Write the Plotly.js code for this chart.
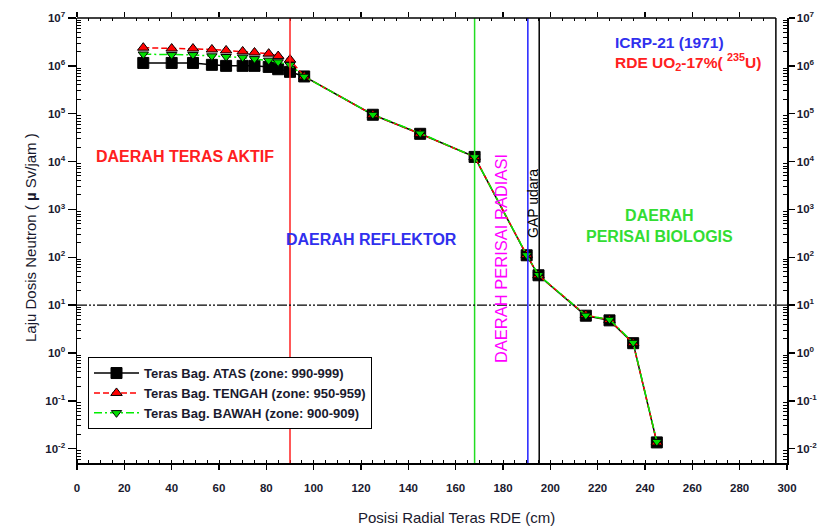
<!DOCTYPE html>
<html>
<head>
<meta charset="utf-8">
<script src="https://cdn.plot.ly/plotly-3.0.1.min.js"></script>
<style>html,body{margin:0;padding:0;background:#fff;}#chart{width:825px;height:527px;}</style>
</head>
<body>
<div id="chart"></div>
<script>
// Data
var posCore = [28, 40, 49, 57, 63, 70, 75, 81, 85, 90, 96];
var atasCore = [1.15e6, 1.15e6, 1.15e6, 1.05e6, 1.0e6, 1.0e6, 1.0e6, 0.95e6, 0.85e6, 0.75e6, 0.6e6];
var tengahCore = [2.4e6, 2.3e6, 2.3e6, 2.2e6, 2.1e6, 2.0e6, 1.9e6, 1.8e6, 1.6e6, 1.35e6, 0.6e6];
var bawahCore = [1.75e6, 1.7e6, 1.7e6, 1.6e6, 1.55e6, 1.5e6, 1.4e6, 1.3e6, 1.2e6, 1.05e6, 0.6e6];
var posOuter = [125, 145, 168, 190, 195, 215, 225, 235, 245];
var atasOuter = [9.5e4, 3.8e4, 1.25e4, 110, 42, 6.0, 4.8, 1.6, 0.0135];
var tengahOuter = [9.5e4, 3.8e4, 1.25e4, 112, 42, 6.2, 4.9, 1.6, 0.0135];
var bawahOuter = [9.6e4, 3.9e4, 1.25e4, 112, 43, 6.1, 5.0, 1.65, 0.014];
var seriesNames = ["Teras Bag. ATAS (zone: 990-999)", "Teras Bag. TENGAH (zone: 950-959)", "Teras Bag. BAWAH (zone: 900-909)"];
var boundaries = {reflector: 90, shield: 168, gapStart: 190.5, gapEnd: 195.3, frame: 295.3};
var limitDose = 10;
var decades = [-2, -1, 0, 1, 2, 3, 4, 5, 6, 7];

var posAll = posCore.concat(posOuter);
var tickVals = decades.map(function(d){return Math.pow(10, d);});
var tickText = decades.map(function(d){return "10<sup>" + d + "</sup>";});
var minorVals = [];
for (var d = -3; d < 7; d++) { for (var k = 2; k <= 9; k++) { minorVals.push(k * Math.pow(10, d)); } }

var tickFont = {family: "Liberation Sans Narrow, Arial Narrow, Liberation Sans, Arial", size: 11.5, color: "#1a1a2e", weight: "bold"};
var annFont = "Liberation Sans, Arial";

var traces = [
  {x: posAll, y: atasCore.concat(atasOuter), name: seriesNames[0], mode: "lines+markers",
   line: {color: "#000", width: 1.5},
   marker: {symbol: "square", size: 11, color: "#000", line: {color: "#000", width: 1}}},
  {x: posAll, y: tengahCore.concat(tengahOuter), name: seriesNames[1], mode: "lines+markers",
   line: {color: "#ff0000", width: 1.5, dash: "6px,3px"},
   marker: {symbol: "triangle-up", size: 10, color: "#ff0000", line: {color: "#000", width: 1}}},
  {x: posAll, y: bawahCore.concat(bawahOuter), name: seriesNames[2], mode: "lines+markers",
   line: {color: "#00ee00", width: 1.5, dash: "8px,3px,2px,3px"},
   marker: {symbol: "triangle-down", size: 9, color: "#00dd00", line: {color: "#000", width: 1}}},
  {x: [0], y: [1], xaxis: "x2", yaxis: "y2", mode: "markers", marker: {opacity: 0}, showlegend: false, hoverinfo: "skip"}
];

function vline(x, color) {
  return {type: "line", xref: "x", yref: "paper", x0: x, x1: x, y0: 0, y1: 1, line: {color: color, width: 1.5}, layer: "above"};
}

var layout = {
  width: 825, height: 527,
  margin: {l: 77, r: 38, t: 18, b: 64},
  paper_bgcolor: "#fff", plot_bgcolor: "#fff",
  showlegend: true,
  legend: {x: 0.0155, y: 0.238, xanchor: "left", yanchor: "top", bgcolor: "rgba(255,255,255,1)",
    bordercolor: "#000", borderwidth: 1, tracegroupgap: 0, itemwidth: 45,
    font: {family: annFont, size: 13, color: "#1a1a2e", weight: "bold"}},
  xaxis: {range: [0, 300], dtick: 20, tick0: 0, ticks: "outside", ticklen: 5, tickwidth: 1.5, tickcolor: "#000",
    showline: true, linecolor: "#000", linewidth: 1.5, showgrid: false, zeroline: false,
    tickfont: tickFont, ticklabelstandoff: 9,
    minor: {dtick: 5, ticks: "inside", ticklen: 3, tickwidth: 1, tickcolor: "#000", showgrid: false}},
  xaxis2: {overlaying: "x", side: "top", anchor: "y", range: [0, 300], tickmode: "array",
    tickvals: [0, 20, 40, 60, 80, 100, 120, 140, 160, 180, 200, 220, 240, 260, 280],
    ticks: "outside", ticklen: 5, tickwidth: 1.5, tickcolor: "#000", showticklabels: false,
    showline: false, showgrid: false, zeroline: false,
    minor: {tickmode: "array", tickvals: [5,10,15,25,30,35,45,50,55,65,70,75,85,90,95,105,110,115,125,130,135,145,150,155,165,170,175,185,190,195,205,210,215,225,230,235,245,250,255,265,270,275,285,290],
      ticks: "inside", ticklen: 3, tickwidth: 1, tickcolor: "#000", showgrid: false}},
  yaxis: {type: "log", range: [-2.3, 7], tickmode: "array", tickvals: tickVals, ticktext: tickText,
    ticks: "outside", ticklen: 8, tickwidth: 1.5, tickcolor: "#000",
    showline: true, linecolor: "#000", linewidth: 1.5, showgrid: false, zeroline: false,
    tickfont: tickFont,
    minor: {tickmode: "array", tickvals: minorVals, ticks: "inside", ticklen: 4, tickwidth: 1, tickcolor: "#000", showgrid: false}},
  yaxis2: {type: "log", range: [-2.3, 7], overlaying: "y", side: "right", anchor: "x",
    tickmode: "array", tickvals: tickVals, ticktext: tickText,
    ticks: "outside", ticklen: 6, tickwidth: 1.5, tickcolor: "#000",
    showline: true, linecolor: "#000", linewidth: 1.5, showgrid: false, zeroline: false,
    tickfont: tickFont,
    minor: {tickmode: "array", tickvals: minorVals, ticks: "inside", ticklen: 4, tickwidth: 1, tickcolor: "#000", showgrid: false}},
  shapes: [
    vline(boundaries.reflector, "#ff2020"),
    vline(boundaries.shield, "#22dd22"),
    vline(boundaries.gapStart, "#2020ff"),
    vline(boundaries.gapEnd, "#000"),
    vline(boundaries.frame, "#000"),
    {type: "line", xref: "x", yref: "paper", x0: 0, x1: boundaries.frame, y0: 1, y1: 1, line: {color: "#000", width: 1.5}},
    {type: "line", xref: "paper", yref: "y", x0: 0, x1: 1, y0: limitDose, y1: limitDose,
     line: {color: "#000", width: 1.2, dash: "10px,2px,2px,2px,2px,2px"}, layer: "above"}
  ],
  annotations: [
    {x: 0.535, y: 517, xref: "paper", yref: "paper", showarrow: false, xanchor: "center", yanchor: "middle",
     text: "Posisi Radial Teras RDE (cm)", font: {family: annFont, size: 15, color: "#1a1a2e"}},
    {x: 30, y: 238, xref: "paper", yref: "paper", showarrow: false, textangle: -90, xanchor: "center", yanchor: "middle",
     text: "Laju Dosis Neutron ( <b>µ</b> Sv/jam )", font: {family: annFont, size: 15, color: "#1a1a2e"}},
    {x: 226.4, y: 6.483, xref: "x", yref: "y", xanchor: "left", yanchor: "middle", showarrow: false,
     text: "ICRP-21 (1971)", font: {family: annFont, size: 15.5, color: "#3030ee", weight: "bold"}},
    {x: 226.4, y: 6.085, xref: "x", yref: "y", xanchor: "left", yanchor: "middle", showarrow: false,
     text: "RDE UO<sub>2</sub>-17%( <sup>235</sup>U)", font: {family: annFont, size: 15.5, color: "#ff2020", weight: "bold"}},
    {x: 45.6, y: 4.097, xref: "x", yref: "y", showarrow: false,
     text: "DAERAH TERAS AKTIF", font: {family: annFont, size: 16, color: "#ff2020", weight: "bold"}},
    {x: 124.6, y: 2.38, xref: "x", yref: "y", showarrow: false,
     text: "DAERAH REFLEKTOR", font: {family: annFont, size: 16, color: "#3030ee", weight: "bold"}},
    {x: 179.1, y: 1.98, xref: "x", yref: "y", showarrow: false, textangle: -90,
     text: "DAERAH PERISAI RADIASI", font: {family: annFont, size: 16.5, color: "#ff00ff"}},
    {x: 192.6, y: 3.13, xref: "x", yref: "y", showarrow: false, textangle: -90,
     text: "GAP udara", font: {family: annFont, size: 14, color: "#000"}},
    {x: 246.3, y: 2.65, xref: "x", yref: "y", showarrow: false,
     text: "DAERAH<br>PERISAI BIOLOGIS", font: {family: annFont, size: 16, color: "#33dd33", weight: "bold"}}
  ]
};
// convert pixel-based title positions to paper fractions
layout.annotations[0].y = (527 - 64 - 517) / (527 - 18 - 64);
layout.annotations[1].x = (30 - 77) / (825 - 77 - 38);
layout.annotations[1].y = (527 - 64 - 238) / (527 - 18 - 64);

Plotly.newPlot("chart", traces, layout, {displayModeBar: false, staticPlot: true});
</script>
</body>
</html>
